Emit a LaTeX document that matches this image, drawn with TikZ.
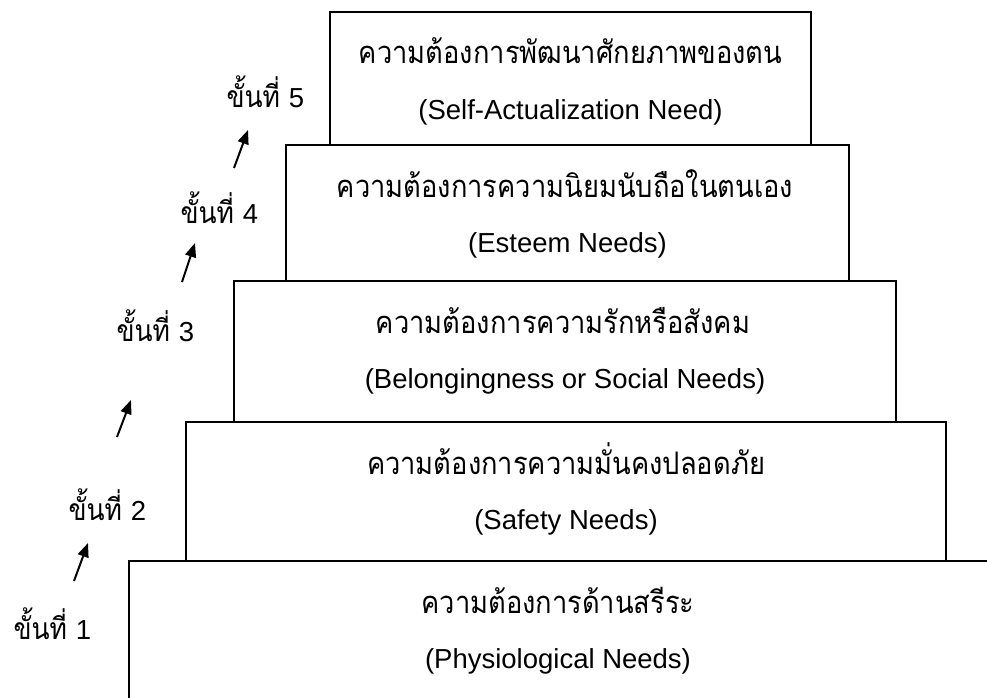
\documentclass[tikz,border=0pt]{standalone}
\usepackage{fontspec}
\setmainfont{Liberation Sans}
\newfontfamily\thaifont[Script=Thai,FakeStretch=0.88]{Loma}
\usetikzlibrary{arrows.meta}

\tikzset{
  level/.style={draw, line width=2pt, inner sep=0pt},
  thline/.style={anchor=base, font=\thaifont\fontsize{31}{36}\selectfont},
  enline/.style={anchor=base, font=\fontsize{27.5}{33}\selectfont},
  stage/.style={anchor=base west, font=\thaifont\fontsize{30}{35}\selectfont},
  up/.style={-{Triangle[length=14pt,width=11pt]}, line width=2pt}
}

\begin{document}
\begin{tikzpicture}[x=1pt,y=-1pt]
        \useasboundingbox (0,0) rectangle (987,698);
        \clip (0,0) rectangle (987,698);
        % the five levels, top to bottom
        \node[level, minimum width=481pt, minimum height=133pt] (L5) at (570.5,78.5) {};
        \node[level, minimum width=563pt, minimum height=136pt] (L4) at (567.5,213) {};
        \node[level, minimum width=662pt, minimum height=141pt] (L3) at (565,351.5) {};
        \node[level, minimum width=760pt, minimum height=139pt] (L2) at (566,491.5) {};
        \node[level, minimum width=874pt, minimum height=200pt] (L1) at (566,661) {};
        \node[thline] (T5) at (570.5,64) {ความต้องการพัฒนาศักยภาพของตน};
        \node[enline] (E5) at (570.5,119.5) {(Self-Actualization Need)};
        \node[thline] (T4) at (565,197) {ความต้องการความนิยมนับถือในตนเอง};
        \node[enline] (E4) at (567.5,252.5) {(Esteem Needs)};
        \node[thline] (T3) at (563,333) {ความต้องการความรักหรือสังคม};
        \node[enline] (E3) at (565,388.5) {(Belongingness or Social Needs)};
        \node[thline] (T2) at (566,474) {ความต้องการความมั่นคงปลอดภัย};
        \node[enline] (E2) at (566,529.5) {(Safety Needs)};
        \node[thline] (T1) at (558,613) {ความต้องการด้านสรีระ};
        \node[enline] (E1) at (558,668.5) {(Physiological Needs)};
        % stages
        \node[stage] (S5) at (223,107) {ขั้นที่ {\rmfamily\fontsize{27.5}{33}\selectfont 5}};
        \node[stage] (S4) at (177,223) {ขั้นที่ {\rmfamily\fontsize{27.5}{33}\selectfont 4}};
        \node[stage] (S3) at (113,341) {ขั้นที่ {\rmfamily\fontsize{27.5}{33}\selectfont 3}};
        \node[stage] (S2) at (65,520) {ขั้นที่ {\rmfamily\fontsize{27.5}{33}\selectfont 2}};
        \node[stage] (S1) at (10,639) {ขั้นที่ {\rmfamily\fontsize{27.5}{33}\selectfont 1}};
        \coordinate (A5) at (234,168);
        \coordinate (B5) at (248,130);
        \coordinate (A4) at (182,282);
        \coordinate (B4) at (195,243);
        \coordinate (A3) at (117,437);
        \coordinate (B3) at (131,400);
        \coordinate (A2) at (74,581);
        \coordinate (B2) at (88,543);
        \draw[up] (A5) -- (B5);
        \draw[up] (A4) -- (B4);
        \draw[up] (A3) -- (B3);
        \draw[up] (A2) -- (B2);
      \end{tikzpicture}
\end{document}
